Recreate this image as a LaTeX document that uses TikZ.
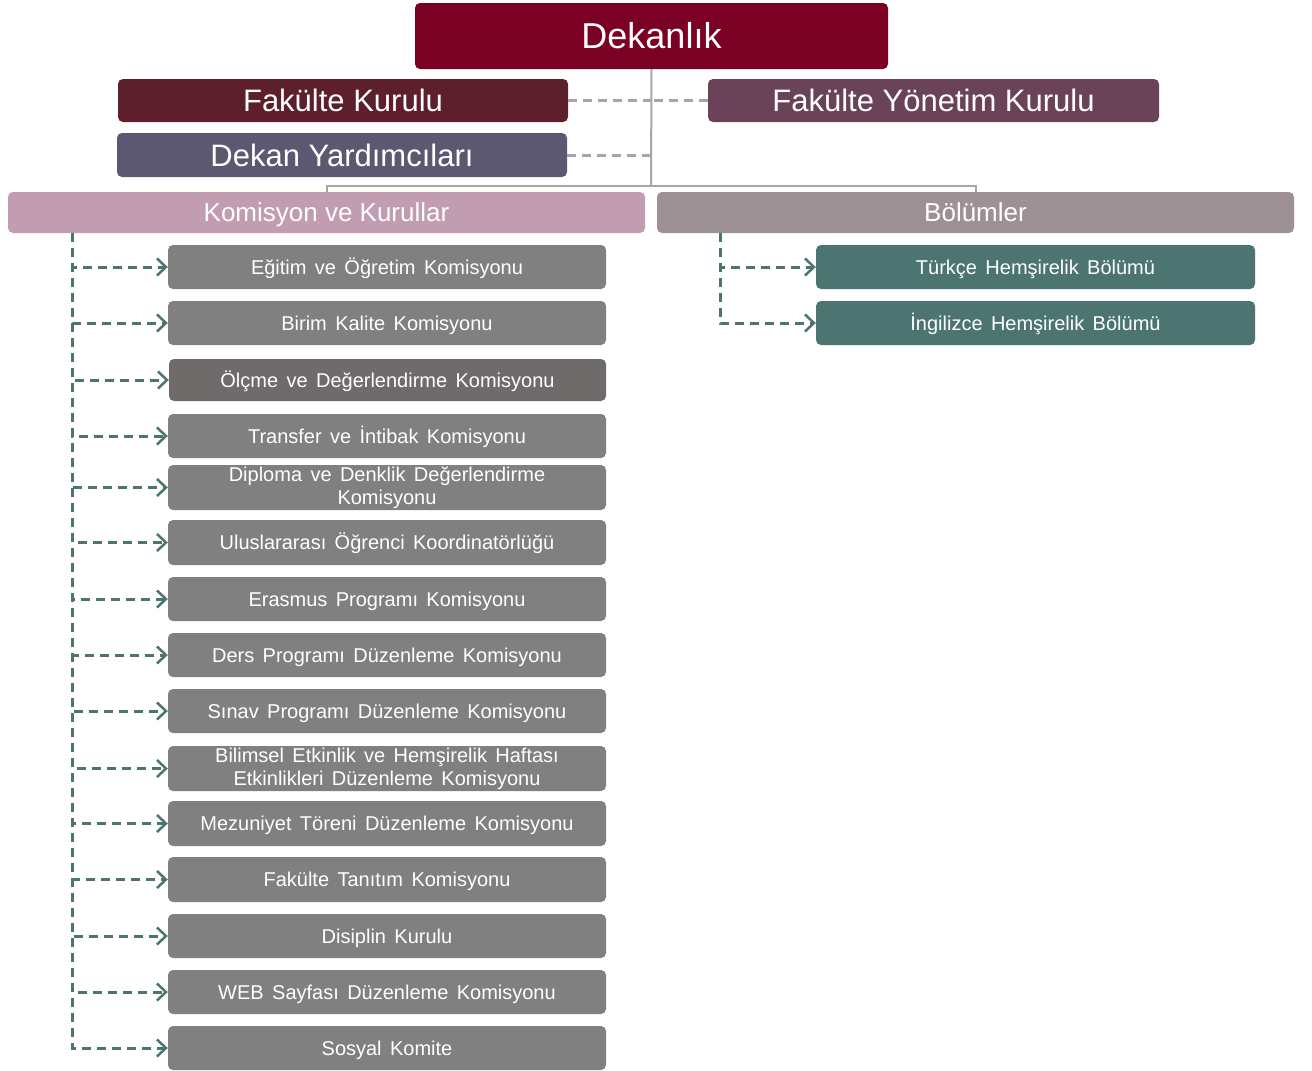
\documentclass[tikz,border=0pt]{standalone}
\usepackage{fontspec}
\setmainfont{Liberation Sans}
\usetikzlibrary{arrows.meta}
\definecolor{cdekan}{HTML}{7A0024}
\definecolor{cfk}{HTML}{5C1F2B}
\definecolor{cfyk}{HTML}{6B4358}
\definecolor{cdy}{HTML}{5C5872}
\definecolor{ckk}{HTML}{C29DB2}
\definecolor{cbol}{HTML}{9D9196}
\definecolor{csub}{HTML}{808080}
\definecolor{colc}{HTML}{706B6B}
\definecolor{cteal}{HTML}{4C7571}
\definecolor{cline}{HTML}{A6A6A6}
\newcommand\mysubfont{\fontsize{20}{22}\selectfont\spaceskip=0.42em plus 0.1em\relax}
\tikzset{
  box/.style={rounded corners=5pt, text=white, inner sep=0pt, align=center, anchor=center},
  subline/.style={text height=14.4pt, text depth=0pt},
  subbox/.style={box, fill=csub, minimum width=438pt, minimum height=44pt, font=\mysubfont},
  depbox/.style={box, fill=cteal, minimum width=439pt, minimum height=44pt, font=\mysubfont, subline},
  solidline/.style={draw=cline, line width=2pt},
  graydash/.style={draw=cline, line width=3pt, dash pattern=on 9pt off 6pt},
  tealarrow/.style={draw=cteal, line width=3pt, dash pattern=on 9pt off 6pt, -{Straight Barb[length=9pt,width=17pt,line width=2.5pt]}}
}
\begin{document}
\begin{tikzpicture}[x=1pt,y=-1pt]
\useasboundingbox (0,0) rectangle (1312,1071);
% top nodes
\node[box, text height=25.8pt, text depth=0pt, fill=cdekan, minimum width=473pt, minimum height=66pt, font=\fontsize{36}{38}\selectfont] (dekan) at (651.5,36) {Dekanlık};
\node[box, text height=22.2pt, text depth=0pt, fill=cfk, minimum width=450pt, minimum height=43pt, font=\fontsize{31}{33}\selectfont] (fk) at (343,100.5) {Fakülte Kurulu};
\node[box, text height=22.2pt, text depth=0pt, fill=cfyk, minimum width=451pt, minimum height=43pt, font=\fontsize{31}{33}\selectfont] (fyk) at (933.5,100.5) {Fakülte Yönetim Kurulu};
\node[box, text height=22.2pt, text depth=0pt, fill=cdy, minimum width=450pt, minimum height=44pt, font=\fontsize{31}{33}\selectfont] (dy) at (342,155) {Dekan Yardımcıları};
\node[box, text height=18.6pt, text depth=0pt, fill=ckk, minimum width=637pt, minimum height=41pt, font=\fontsize{26}{28}\selectfont] (kk) at (326.5,212.5) {Komisyon ve Kurullar};
\node[box, text height=18.6pt, text depth=0pt, fill=cbol, minimum width=637pt, minimum height=41pt, font=\fontsize{26}{28}\selectfont] (bol) at (975.5,212.5) {Bölümler};
% sub boxes
\node[subbox, subline] (s1) at (387,267) {Eğitim ve Öğretim Komisyonu};
\node[subbox, subline] (s2) at (387,323) {Birim Kalite Komisyonu};
\node[subbox, subline, fill=colc, minimum width=437pt, minimum height=42pt] (s3) at (387.5,380) {Ölçme ve Değerlendirme Komisyonu};
\node[subbox, subline] (s4) at (387,436) {Transfer ve İntibak Komisyonu};
\node[subbox, minimum height=45pt] (s5) at (387,487.5) {Diploma ve Denklik Değerlendirme\\[1pt]Komisyonu};
\node[subbox, subline, minimum height=45pt] (s6) at (387,542.5) {Uluslararası Öğrenci Koordinatörlüğü};
\node[subbox, subline] (s7) at (387,599) {Erasmus Programı Komisyonu};
\node[subbox, subline] (s8) at (387,655) {Ders Programı Düzenleme Komisyonu};
\node[subbox, subline] (s9) at (387,711) {Sınav Programı Düzenleme Komisyonu};
\node[subbox, minimum height=45pt] (s10) at (387,768.5) {Bilimsel Etkinlik ve Hemşirelik Haftası\\[1pt]Etkinlikleri Düzenleme Komisyonu};
\node[subbox, subline, minimum height=45pt] (s11) at (387,823.5) {Mezuniyet Töreni Düzenleme Komisyonu};
\node[subbox, subline, minimum height=45pt] (s12) at (387,879.5) {Fakülte Tanıtım Komisyonu};
\node[subbox, subline] (s13) at (387,936) {Disiplin Kurulu};
\node[subbox, subline] (s14) at (387,992) {WEB Sayfası Düzenleme Komisyonu};
\node[subbox, subline] (s15) at (387,1048) {Sosyal Komite};
% departments
\node[depbox] (d1) at (1035.5,267) {Türkçe Hemşirelik Bölümü};
\node[depbox] (d2) at (1035.5,323) {İngilizce Hemşirelik Bölümü};
% solid connectors
\coordinate (hub) at (651,186);
\draw[solidline] (dekan.south) -- (hub);
\draw[solidline] (kk.north) |- (hub) -| (bol.north);
% gray dashed
\coordinate (fkend) at (651,100.5);
\coordinate (dyend) at (651,155);
\draw[graydash] (fk.east) -- (fkend);
\draw[graydash] (fyk.west) -- (fkend);
\draw[graydash] (dy.east) -- (dyend);
% teal arrows
\coordinate (kx) at (72,233);
\foreach \n in {s1,s2,s3,s4,s5,s6,s7,s8,s9,s10,s11,s12,s13,s14,s15}
  \draw[tealarrow] (kx) |- (\n.west);
\coordinate (bx) at (720,233);
\foreach \n in {d1,d2}
  \draw[tealarrow] (bx) |- (\n.west);
\end{tikzpicture}
\end{document}
